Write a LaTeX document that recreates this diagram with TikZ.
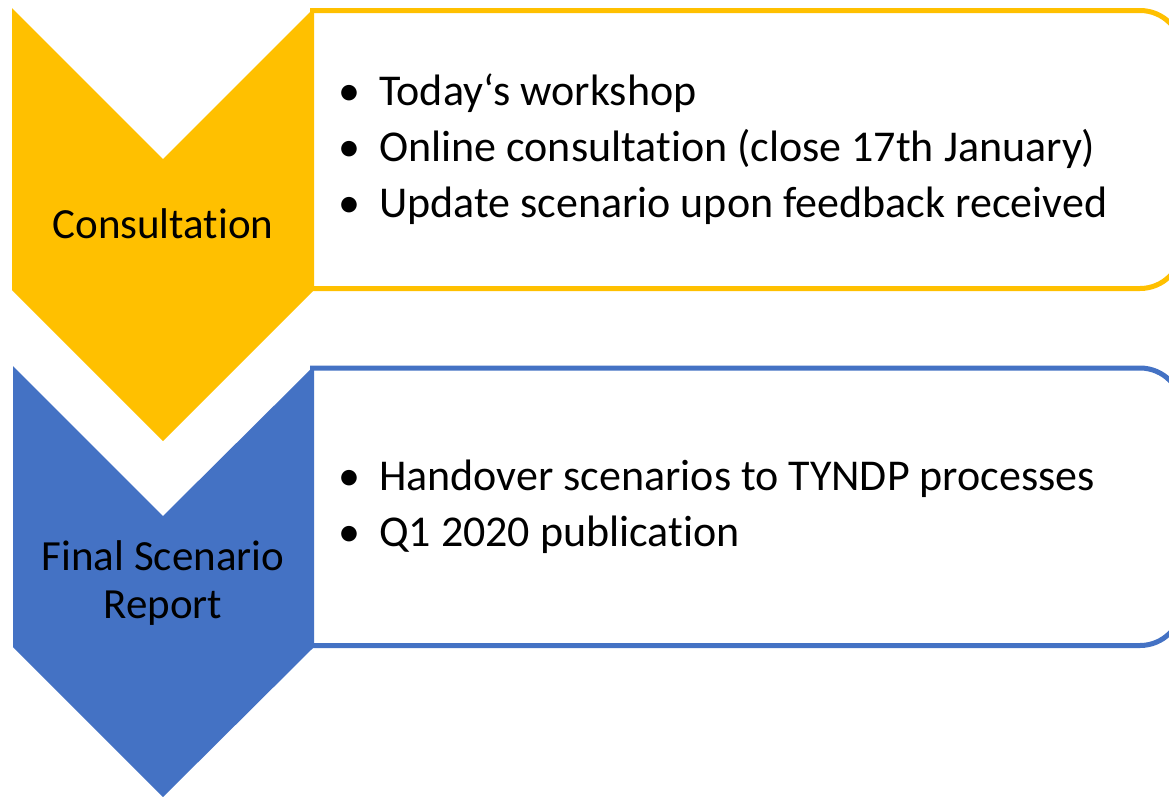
\documentclass[tikz,border=0pt]{standalone}
\usepackage{fontspec}
\setmainfont[Ligatures=NoCommon]{Carlito}
\definecolor{gold}{HTML}{FFC000}
\definecolor{steel}{HTML}{4472C4}
\begin{document}
\begin{tikzpicture}[x=1pt,y=-1pt,
  panel/.style={line width=5pt,rounded corners=42pt,fill=white},
  label/.style={font=\fontsize{43}{48}\selectfont,align=center,inner sep=0pt,anchor=base},
  item/.style={font=\fontsize{44}{56}\selectfont,inner sep=0pt,anchor=base west}]
\useasboundingbox (0,0) rectangle (1169,796);
% content panels (left edge sits under the chevrons)
\draw[panel,draw=gold] (310,10.5) -- (1182,10.5) -- (1182,288.5) -- (310,288.5);
\draw[panel,draw=steel] (310,368) -- (1182,368) -- (1182,645.5) -- (310,645.5);
% chevrons
\fill[gold] (12,8) -- (163,159) -- (314,8) -- (314,290) -- (163,441) -- (12,290) -- cycle;
\fill[steel] (13,366) -- (163,516) -- (314,366) -- (314,647) -- (163,797) -- (13,647) -- cycle;
% chevron captions
\node[label] (consult) at (163,238) {Consultation};
\node[label] (final) at (163,618) {Final Scenario\\Report};
% bullet items
\newcommand{\bul}{\llap{•\hspace{19pt}}}
\node[item] (i1) at (379,105) {\bul Today‘s workshop};
\node[item] (i2) at (379,161) {\bul Online consultation (close 17th January)};
\node[item] (i3) at (379,217) {\bul Update scenario upon feedback received};
\node[item] (i4) at (379,490) {\bul Handover scenarios to TYNDP processes};
\node[item] (i5) at (379,546) {\bul Q1 2020 publication};
\end{tikzpicture}
\end{document}
